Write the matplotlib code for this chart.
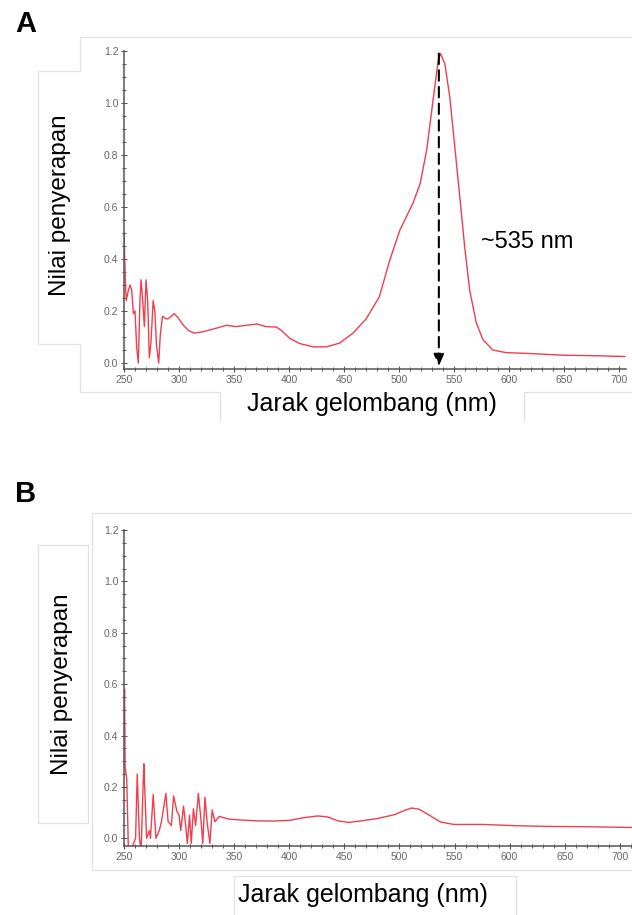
import matplotlib
matplotlib.use("Agg")
import matplotlib.pyplot as plt
from matplotlib.lines import Line2D
from matplotlib.ticker import MultipleLocator, FormatStrFormatter

W, H = 632, 915

# spectrum A
wl_a = [250, 251, 252, 254, 255.5, 257, 258.5, 260, 261.5, 263, 264.5, 265.5, 267, 268.5,
        270, 271.5, 273, 274.5, 276.5, 278, 279.5, 281.5, 283, 285, 288, 290, 293, 295.5,
        299, 304, 308.5, 314, 321.5, 330.5, 343, 352, 361, 371, 379, 388.5, 393, 400.5,
        409.5, 422, 434, 446, 458, 470, 482, 491, 500.5, 512.5, 519, 525, 531, 535.5,
        537.5, 541.5, 546, 550.5, 555, 559.5, 564, 570, 576, 585, 597, 616, 649, 679, 705]
abs_a = [0.50, 0.35, 0.24, 0.28, 0.30, 0.28, 0.19, 0.20, 0.06, 0.0, 0.24, 0.32, 0.24, 0.14,
         0.32, 0.24, 0.02, 0.08, 0.24, 0.20, 0.07, 0.0, 0.11, 0.18, 0.17, 0.17, 0.18, 0.19,
         0.175, 0.145, 0.125, 0.115, 0.12, 0.13, 0.145, 0.14, 0.145, 0.15, 0.14, 0.138, 0.125,
         0.095, 0.075, 0.062, 0.062, 0.077, 0.115, 0.17, 0.255, 0.39, 0.51, 0.615, 0.69, 0.82,
         1.02, 1.165, 1.19, 1.15, 1.02, 0.83, 0.64, 0.445, 0.28, 0.155, 0.09, 0.05, 0.04,
         0.037, 0.03, 0.028, 0.025]

# spectrum B
wl_b = [250, 250.5, 251, 252.5, 254, 256, 260.5, 262, 264, 265.5, 267.5, 268, 270.5, 273,
        274, 276.5, 279, 282, 284, 288, 290, 293, 295, 298, 300, 301.5, 304, 306, 307.5,
        309.5, 311, 313, 315, 317.5, 320, 321.5, 323.5, 325.5, 328, 330, 332.5, 336.5, 345,
        353, 370, 385, 400.5, 413, 426, 435, 445, 454, 464, 480, 495.5, 505, 511, 518, 527,
        537, 549, 575, 606, 638, 670, 712]
abs_b = [0.50, 0.58, 0.28, 0.23, -0.05, -0.05, 0.0, 0.25, 0.0, -0.05, 0.23, 0.29, 0.0, 0.03,
         0.0, 0.17, 0.0, 0.03, 0.065, 0.175, 0.065, 0.05, 0.165, 0.105, 0.09, 0.03, 0.125,
         0.05, -0.02, 0.09, -0.02, 0.115, 0.05, 0.175, 0.065, -0.02, 0.16, 0.06, -0.02, 0.11,
         0.065, 0.085, 0.075, 0.072, 0.068, 0.067, 0.07, 0.08, 0.087, 0.083, 0.067, 0.062,
         0.067, 0.077, 0.092, 0.109, 0.118, 0.113, 0.09, 0.064, 0.054, 0.054, 0.049, 0.046,
         0.045, 0.042]

peak_nm = 536
peak_label = "~535 nm"
ylabel = "Nilai penyerapan"
xlabel = "Jarak gelombang (nm)"

LABEL_FONT = ["Liberation Sans", "DejaVu Sans"]
TICK_FONT = ["Liberation Sans Narrow", "Liberation Sans", "DejaVu Sans"]
RED = "#ef3e4e"
BOX = "#e2e2e2"


def fx(px):
    return px / W


def fy(py):
    return 1 - py / H


def outline(fig, pts):
    xs = [fx(p[0]) for p in pts]
    ys = [fy(p[1]) for p in pts]
    fig.add_artist(Line2D(xs, ys, color=BOX, lw=0.9, transform=fig.transFigure))


def make_axes(fig, left, top, right, bottom, ylo, xhi):
    ax = fig.add_axes([fx(left), fy(bottom), fx(right - left), (bottom - top) / H])
    ax.set_xlim(250, xhi)
    ax.set_ylim(ylo, 1.2)
    for s in ["top", "right"]:
        ax.spines[s].set_visible(False)
    for s in ["left", "bottom"]:
        ax.spines[s].set_color("#555555")
        ax.spines[s].set_linewidth(1.1)
    ax.xaxis.set_major_locator(MultipleLocator(50))
    ax.xaxis.set_minor_locator(MultipleLocator(10))
    ax.yaxis.set_major_locator(MultipleLocator(0.2))
    ax.yaxis.set_minor_locator(MultipleLocator(0.05))
    ax.yaxis.set_major_formatter(FormatStrFormatter("%.1f"))
    ax.tick_params(which="major", direction="inout", length=4, width=0.8,
                   color="#555555", labelcolor="#666666", labelsize=7.5, pad=2)
    ax.tick_params(which="minor", direction="inout", length=2.5, width=0.7,
                   color="#555555")
    for lab in ax.get_xticklabels() + ax.get_yticklabels():
        lab.set_family(TICK_FONT)
    ax.patch.set_alpha(0)
    return ax


fig = plt.figure(figsize=(W / 100, H / 100), dpi=100)

# panel A frames
outline(fig, [(220, 420), (220, 392), (80, 392), (80, 344), (38, 344), (38, 71),
              (80, 71), (80, 37), (633, 37)])
outline(fig, [(633, 392), (524, 392), (524, 420)])

# panel B frames
outline(fig, [(633, 513), (92, 513), (92, 870), (633, 870)])
outline(fig, [(38, 545), (88, 545), (88, 823), (38, 823), (38, 545)])
outline(fig, [(234, 916), (234, 876), (516, 876), (516, 916)])

axA = make_axes(fig, 124, 51, 626, 369, -0.023, 706)
axA.plot(wl_a, abs_a, color=RED, lw=1.0)
axA.annotate("", xy=(peak_nm, -0.012), xytext=(peak_nm, 1.19),
             arrowprops=dict(arrowstyle="-|>,head_length=0.7,head_width=0.3",
                             color="black", lw=1.5, linestyle=(0, (5, 3)),
                             shrinkA=0, shrinkB=0))
axA.text(574, 0.465, peak_label, ha="left", va="center", fontsize=17,
         family=LABEL_FONT, color="black")

axB = make_axes(fig, 124, 530, 633, 846, -0.03, 712)
axB.plot(wl_b, abs_b, color=RED, lw=1.0)

# labels
fig.text(fx(15), fy(24), "A", fontsize=21, fontweight="bold", family=LABEL_FONT,
         ha="left", va="center")
fig.text(fx(15), fy(494), "B", fontsize=21, fontweight="bold", family=LABEL_FONT,
         ha="left", va="center")
fig.text(fx(60), fy(205), ylabel, rotation=90, fontsize=17.5, family=LABEL_FONT,
         ha="center", va="center")
fig.text(fx(62), fy(684), ylabel, rotation=90, fontsize=17.5, family=LABEL_FONT,
         ha="center", va="center")
fig.text(fx(372), fy(404), xlabel, fontsize=18, family=LABEL_FONT,
         ha="center", va="center")
fig.text(fx(363), fy(895), xlabel, fontsize=18, family=LABEL_FONT,
         ha="center", va="center")

fig.savefig("out.png", dpi=100)
